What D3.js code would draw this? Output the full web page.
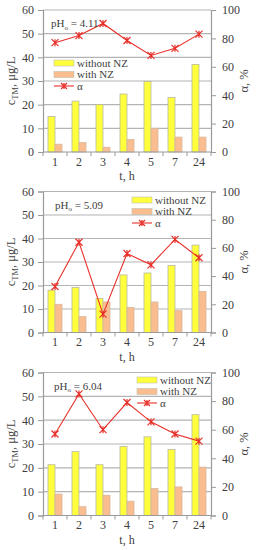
<!DOCTYPE html>
<html>
<head>
<meta charset="utf-8">
<script src="https://cdn.jsdelivr.net/npm/d3@7"></script>
<style>
  body { margin: 0; background: #fff; }
  svg text { font-family: "Liberation Serif", "DejaVu Serif", serif !important; fill: #404040; }
</style>
</head>
<body>
<svg id="container"></svg>
<script>
// data
const hours = ["1", "2", "3", "4", "5", "7", "24"];
const phValues = ["4.11", "5.09", "6.04"];

const withoutNZ1 = [15, 21.5, 20, 24.5, 29.8, 23, 37];
const withNZ1 = [3.3, 4, 2, 5.3, 10, 6.3, 6.3];
const alpha1 = [77, 82, 90.5, 78.5, 68, 73, 83];

const withoutNZ2 = [18, 19.2, 14.5, 24.5, 25.3, 28.5, 37.2];
const withNZ2 = [12, 6.8, 13, 10.7, 13, 9.3, 17.5];
const alpha2 = [32.6, 64, 13, 56, 48, 66, 53];

const withoutNZ3 = [21.3, 26.8, 21.3, 29, 33, 27.7, 42.3];
const withNZ3 = [9, 3.7, 8.5, 6, 11.3, 12, 20.3];
const alpha3 = [57, 85, 60, 79, 65.5, 57, 52];

const leftTicks = [0, 10, 20, 30, 40, 50, 60];
const rightTicks = [0, 20, 40, 60, 80, 100];
const legendLabels = ["without NZ", "with NZ", "α"];

const W = 257, H = 550;
const left = 43, right = 211;
const FONT = "'Liberation Serif', 'DejaVu Serif', serif";

const panels = [
  {top: 10, h: 142, ph: phValues[0], a: withoutNZ1, b: withNZ1, al: alpha1, phx: 51, legx: 54, legy: 63},
  {top: 191.5, h: 141, ph: phValues[1], a: withoutNZ2, b: withNZ2, al: alpha2, phx: 55, legx: 132, legy: 200},
  {top: 372.5, h: 143, ph: phValues[2], a: withoutNZ3, b: withNZ3, al: alpha3, phx: 54, legx: 137, legy: 380}
];

const svg = d3.select("#container").attr("width", W).attr("height", H);

const x0 = d3.scaleBand().domain(hours).range([left, right]);
const x1 = d3.scaleBand().domain(["a", "b"]).range([5, 19]);

const yellow = "#ffff3c", orange = "#f9bd8f", red = "#e8302a";

function star(g, cx, cy, r) {
  g.append("path")
    .attr("d", `M${cx-r},${cy-r}L${cx+r},${cy+r}M${cx-r},${cy+r}L${cx+r},${cy-r}M${cx},${cy-r}L${cx},${cy+r}`)
    .attr("stroke", red).attr("stroke-width", 1.2).attr("fill", "none");
}

panels.forEach(p => {
  const g = svg.append("g");
  const yL = d3.scaleLinear().domain([0, 60]).range([p.top + p.h, p.top]);
  const yR = d3.scaleLinear().domain([0, 100]).range([p.top + p.h, p.top]);
  const bottom = p.top + p.h;

  // grid
  g.selectAll(".grid").data(leftTicks.filter(d => d > 0)).enter().append("line")
    .attr("x1", left).attr("x2", right)
    .attr("y1", d => yL(d)).attr("y2", d => yL(d))
    .attr("stroke", "#b4b4b4").attr("stroke-width", 1.2);

  // bars
  const grp = g.selectAll(".grp").data(hours).enter().append("g")
    .attr("transform", d => `translate(${x0(d)},0)`);
  grp.append("rect")
    .attr("x", x1("a")).attr("width", x1.bandwidth())
    .attr("y", (d, i) => yL(p.a[i])).attr("height", (d, i) => bottom - yL(p.a[i]))
    .attr("fill", yellow).attr("stroke", "#b8b8a0").attr("stroke-width", 0.8);
  grp.append("rect")
    .attr("x", x1("b")).attr("width", x1.bandwidth())
    .attr("y", (d, i) => yL(p.b[i])).attr("height", (d, i) => bottom - yL(p.b[i]))
    .attr("fill", orange).attr("stroke", "#d8b8a0").attr("stroke-width", 0.8);

  // axes
  const axL = g.append("g").attr("transform", `translate(${left},0)`)
    .call(d3.axisLeft(yL).tickValues(leftTicks).tickSize(5).tickPadding(4));
  const axR = g.append("g").attr("transform", `translate(${right},0)`)
    .call(d3.axisRight(yR).tickValues(rightTicks).tickSize(5).tickPadding(6));
  const axB = g.append("g").attr("transform", `translate(0,${bottom})`)
    .call(d3.axisBottom(x0).tickSize(0).tickPadding(5));
  [axL, axR, axB].forEach(ax => {
    ax.attr("font-family", FONT);
    ax.select(".domain").attr("stroke", "#9a9a9a").attr("stroke-width", 1.2);
    ax.selectAll(".tick line").attr("stroke", "#9a9a9a");
    ax.selectAll(".tick text").style("font-size", "12px").style("font-family", FONT).attr("fill", "#404040");
  });
  axB.select(".domain").attr("d", `M${left},0H${right}`);
  axB.selectAll(".sep").data(d3.range(hours.length + 1)).enter().append("line")
    .attr("x1", i => left + i * x0.step()).attr("x2", i => left + i * x0.step())
    .attr("y1", 0).attr("y2", 4).attr("stroke", "#9a9a9a");

  // alpha line
  const line = d3.line().x((d, i) => x0(hours[i]) + x0.bandwidth() / 2).y(d => yR(d));
  g.append("path").attr("d", line(p.al)).attr("fill", "none")
    .attr("stroke", red).attr("stroke-width", 1.1);
  p.al.forEach((v, i) => star(g, x0(hours[i]) + x0.bandwidth() / 2, yR(v), 3.5));

  // titles
  g.append("text").attr("x", (left + right) / 2).attr("y", bottom + 28)
    .attr("text-anchor", "middle").style("font-size", "12px").style("font-family", FONT).text("t, h");
  const tl = g.append("text")
    .attr("transform", `translate(15,${p.top + p.h / 2}) rotate(-90)`)
    .attr("text-anchor", "middle").style("font-size", "12.5px").style("font-family", FONT);
  tl.append("tspan").text("c");
  tl.append("tspan").attr("dy", 3).style("font-size", "8.5px").text("TM");
  tl.append("tspan").attr("dy", -3).text(", μg/L");
  g.append("text")
    .attr("transform", `translate(248,${p.top + p.h / 2}) rotate(-90)`)
    .attr("text-anchor", "middle").style("font-size", "12.5px").style("font-family", FONT).text("α, %");

  // pH label
  const ph = g.append("text").attr("x", p.phx).attr("y", p.top + 17)
    .style("font-size", "11px").style("font-family", FONT);
  ph.append("tspan").text("pH");
  ph.append("tspan").attr("dy", 2.5).style("font-size", "7px").text("o");
  ph.append("tspan").attr("dy", -2.5).text(" = " + p.ph);

  // legend
  const lg = g.append("g").attr("transform", `translate(${p.legx},${p.legy})`);
  [yellow, orange].forEach((c, i) => {
    lg.append("rect").attr("x", 0).attr("y", i * 11.5 - 3).attr("width", 20).attr("height", 6)
      .attr("fill", c).attr("stroke", "#c0c0b0").attr("stroke-width", 0.6);
  });
  lg.append("line").attr("x1", 0).attr("x2", 20).attr("y1", 23).attr("y2", 23)
    .attr("stroke", red).attr("stroke-width", 1.1);
  star(lg, 10, 23, 3);
  legendLabels.forEach((t, i) => {
    lg.append("text").attr("x", 23).attr("y", i * 11.5 + 3.5)
      .style("font-size", "11px").style("font-family", FONT).text(t);
  });
});
</script>
</body>
</html>
